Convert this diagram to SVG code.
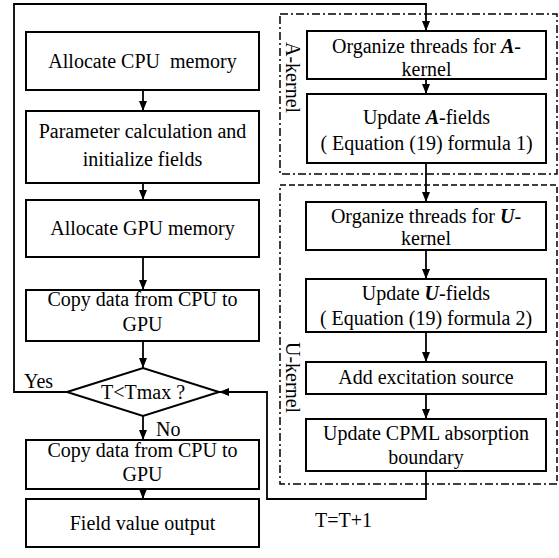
<svg xmlns="http://www.w3.org/2000/svg" width="559" height="558" viewBox="0 0 559 558">
<style>
.box{fill:#fff;stroke:#000;stroke-width:2}
.con{fill:none;stroke:#000;stroke-width:1.8}
.t{font-family:"Liberation Serif","Times New Roman",serif;font-size:20px;fill:#000;text-anchor:middle}
.l{font-family:"Liberation Serif","Times New Roman",serif;font-size:20px;fill:#000}
.bi{font-weight:bold;font-style:italic}
.dd{fill:none;stroke:#000;stroke-width:1.5;stroke-dasharray:8 3 2 3}
.da{fill:none;stroke:#000;stroke-width:1.5;stroke-dasharray:6 3}
</style>
<defs>
<marker id="arr" markerUnits="userSpaceOnUse" markerWidth="10" markerHeight="8" refX="10" refY="4" orient="auto">
<path d="M0,0 L10,4 L0,8 z" fill="#000"/>
</marker>
</defs>
<rect width="559" height="558" fill="#fff"/>
<g id="groups">
<rect class="dd" x="280" y="14" width="277" height="160"/>
<path class="da" d="M280,185 H557 V484"/>
<path class="dd" d="M557,484 H280 V185"/>
<text class="l" transform="translate(286,42) rotate(90)">A-kernel</text>
<text class="l" transform="translate(286,342) rotate(90)">U-kernel</text>
</g>
<g id="connectors">
<path class="con" d="M67,392 H14 V4 H426 V31" marker-end="url(#arr)"/>
<path class="con" d="M143,90 V111" marker-end="url(#arr)"/>
<path class="con" d="M143,183 V200" marker-end="url(#arr)"/>
<path class="con" d="M143,257 V290" marker-end="url(#arr)"/>
<path class="con" d="M143,341 V368" marker-end="url(#arr)"/>
<path class="con" d="M143,416 V440" marker-end="url(#arr)"/>
<path class="con" d="M143,489 V499" marker-end="url(#arr)"/>
<path class="con" d="M426,79 V94" marker-end="url(#arr)"/>
<path class="con" d="M426,163 V202" marker-end="url(#arr)"/>
<path class="con" d="M426,250 V279" marker-end="url(#arr)"/>
<path class="con" d="M426,332 V362" marker-end="url(#arr)"/>
<path class="con" d="M426,394 V419" marker-end="url(#arr)"/>
<path class="con" d="M426,471 V499 H267 V392 H219" marker-end="url(#arr)"/>
<text class="l" x="24" y="388">Yes</text>
<text class="l" x="156" y="436">No</text>
<text class="l" x="315" y="527">T=T+1</text>
</g>
<g id="n1"><rect class="box" x="26" y="32" width="233" height="58"/><text class="t" x="142.5" y="68">Allocate CPU&#160; memory</text></g>
<g id="n2"><rect class="box" x="26" y="111" width="233" height="72"/><text class="t" x="142.5" y="138">Parameter calculation and</text><text class="t" x="142.5" y="166">initialize fields</text></g>
<g id="n3"><rect class="box" x="26" y="200" width="233" height="57"/><text class="t" x="142.5" y="235">Allocate GPU memory</text></g>
<g id="n4"><rect class="box" x="26" y="290" width="233" height="51"/><text class="t" x="142.5" y="306">Copy data from CPU to</text><text class="t" x="142.5" y="331">GPU</text></g>
<g id="n5"><polygon class="box" points="67,392 143,368 219,392 143,416"/><text class="t" x="143" y="399">T&lt;Tmax ?</text></g>
<g id="n6"><rect class="box" x="26" y="440" width="233" height="49"/><text class="t" x="142.5" y="457">Copy data from CPU to</text><text class="t" x="142.5" y="481">GPU</text></g>
<g id="n7"><rect class="box" x="26" y="499" width="233" height="48"/><text class="t" x="142.5" y="530">Field value output</text></g>
<g id="a1"><rect class="box" x="307" y="31" width="239" height="48"/><text class="t" x="426.5" y="53">Organize threads for <tspan class="bi">A</tspan>-</text><text class="t" x="426.5" y="76">kernel</text></g>
<g id="a2"><rect class="box" x="307" y="94" width="239" height="69"/><text class="t" x="426.5" y="124">Update <tspan class="bi">A</tspan>-fields</text><text class="t" x="426.5" y="150">( Equation (19) formula 1)</text></g>
<g id="u1"><rect class="box" x="306" y="202" width="240" height="48"/><text class="t" x="426" y="223">Organize threads for <tspan class="bi">U</tspan>-</text><text class="t" x="426" y="245">kernel</text></g>
<g id="u2"><rect class="box" x="306" y="279" width="240" height="53"/><text class="t" x="426" y="300">Update <tspan class="bi">U</tspan>-fields</text><text class="t" x="426" y="325">( Equation (19) formula 2)</text></g>
<g id="u3"><rect class="box" x="306" y="362" width="240" height="32"/><text class="t" x="426" y="384">Add excitation source</text></g>
<g id="u4"><rect class="box" x="306" y="419" width="240" height="52"/><text class="t" x="426" y="440">Update CPML absorption</text><text class="t" x="426" y="464">boundary</text></g>
</svg>
